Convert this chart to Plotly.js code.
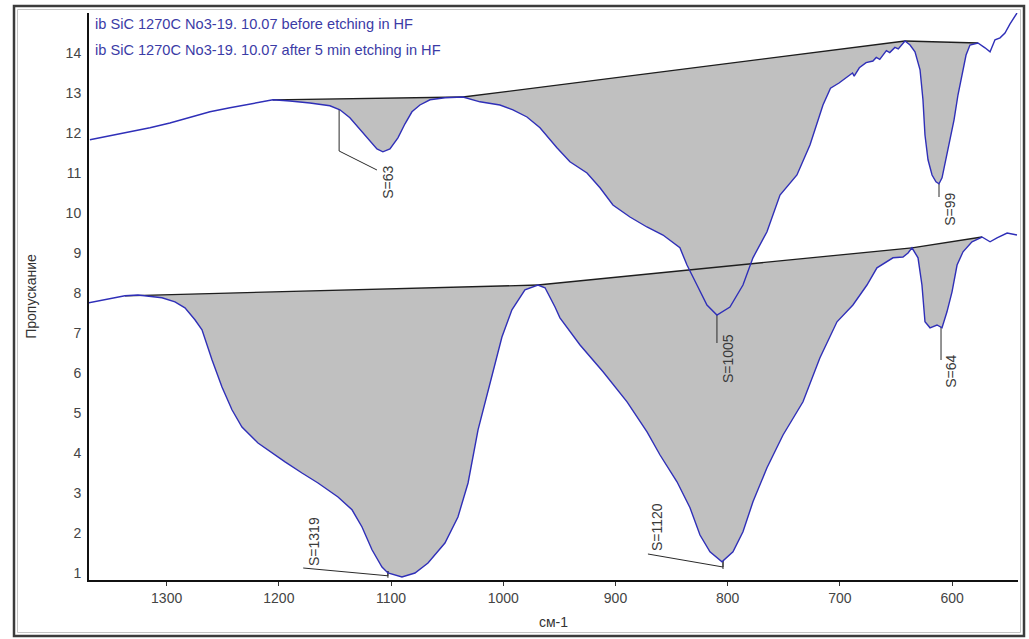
<!DOCTYPE html>
<html>
<head>
<meta charset="utf-8">
<script src="https://cdn.plot.ly/plotly-3.0.1.min.js"></script>
<style>
  html, body { margin: 0; padding: 0; background: #ffffff; }
  #chart { width: 1029px; height: 639px; }
</style>
</head>
<body>
<div id="chart"></div>
<script>
// ---- Data (wavenumber, cm-1 ; transmission) ----
const wnBefore = [1368.4, 1350.5, 1332.7, 1314.9, 1297.1, 1279.2, 1261.4, 1243.6, 1225.8, 1205.3, 1190.1, 1172.3, 1154.5, 1145.6, 1136.7, 1127.8, 1118.9, 1112.6, 1107.3, 1101.0, 1093.9, 1087.6, 1081.4, 1074.3, 1065.3, 1052.0, 1035.9, 1020.8, 1003.0, 991.4, 978.9, 967.3, 952.2, 940.6, 925.4, 913.8, 902.3, 887.1, 872.0, 857.7, 842.6, 836.3, 827.4, 818.5, 809.6, 798.0, 786.4, 777.5, 765.0, 753.4, 738.3, 726.7, 715.1, 708.4, 700.8, 694.7, 688.8, 687.3, 682.7, 676.7, 670.6, 667.6, 664.5, 658.6, 655.6, 651.0, 648.0, 642.0, 637.5, 633.1, 628.6, 626.0, 624.2, 621.5, 617.9, 614.4, 611.7, 609.0, 605.5, 601.9, 598.3, 594.8, 591.2, 587.6, 584.1, 577.0, 570.7, 566.2, 561.8, 557.3, 552.9, 548.4, 542.2];
const tBefore  = [11.83, 11.93, 12.03, 12.13, 12.25, 12.40, 12.53, 12.63, 12.73, 12.83, 12.80, 12.75, 12.68, 12.58, 12.38, 12.10, 11.80, 11.60, 11.53, 11.60, 11.88, 12.23, 12.53, 12.70, 12.83, 12.88, 12.90, 12.78, 12.70, 12.58, 12.40, 12.13, 11.63, 11.28, 11.00, 10.63, 10.20, 9.90, 9.65, 9.45, 9.13, 8.70, 8.20, 7.70, 7.45, 7.65, 8.20, 8.88, 9.53, 10.45, 10.95, 11.70, 12.70, 13.12, 13.25, 13.38, 13.50, 13.42, 13.63, 13.76, 13.80, 13.89, 13.84, 14.06, 14.01, 14.14, 14.10, 14.30, 14.20, 14.03, 13.58, 12.83, 11.95, 11.33, 10.95, 10.78, 10.73, 10.88, 11.33, 11.83, 12.33, 12.95, 13.45, 13.95, 14.20, 14.25, 14.13, 14.03, 14.33, 14.38, 14.50, 14.73, 15.00];

const wnAfter = [1370.1, 1355.0, 1337.2, 1325.6, 1304.2, 1292.6, 1283.7, 1274.8, 1268.5, 1259.6, 1250.7, 1241.8, 1232.9, 1218.6, 1206.1, 1194.5, 1179.4, 1165.1, 1147.3, 1134.8, 1125.9, 1117.0, 1108.1, 1102.8, 1090.3, 1078.7, 1067.1, 1052.0, 1040.4, 1031.4, 1022.5, 1010.1, 1001.2, 992.3, 980.7, 969.1, 962.8, 953.9, 949.5, 931.6, 911.1, 889.7, 871.9, 860.3, 845.2, 833.6, 824.7, 815.8, 805.1, 795.3, 786.4, 777.5, 765.0, 750.7, 732.9, 717.8, 702.6, 688.4, 675.9, 667.0, 652.7, 643.8, 639.3, 635.8, 630.4, 626.9, 624.2, 619.7, 613.5, 609.0, 604.6, 600.1, 595.6, 590.3, 582.3, 573.4, 566.2, 560.0, 551.0, 542.2];
const tAfter  = [7.75, 7.83, 7.93, 7.95, 7.88, 7.78, 7.63, 7.33, 7.08, 6.33, 5.65, 5.08, 4.65, 4.25, 4.00, 3.78, 3.50, 3.25, 2.90, 2.58, 2.15, 1.58, 1.15, 1.00, 0.90, 1.00, 1.25, 1.75, 2.40, 3.25, 4.58, 5.90, 6.90, 7.58, 8.08, 8.20, 8.13, 7.65, 7.38, 6.70, 6.03, 5.28, 4.53, 3.95, 3.28, 2.63, 1.95, 1.53, 1.28, 1.53, 2.03, 2.78, 3.63, 4.45, 5.28, 6.38, 7.28, 7.70, 8.20, 8.63, 8.88, 8.90, 9.00, 9.13, 8.88, 8.20, 7.28, 7.13, 7.20, 7.13, 7.53, 8.03, 8.70, 9.03, 9.28, 9.40, 9.28, 9.38, 9.50, 9.45];

// integration baselines: start/end wavenumber and value
const baseCurve = ['before', 'before', 'before', 'after', 'after', 'after'];
const baseX0 = [1205.3, 1035.9, 642.0, 1337.2, 969.1, 635.8];
const baseY0 = [12.83, 12.90, 14.30, 7.93, 8.20, 9.13];
const baseX1 = [1035.9, 642.0, 577.0, 969.1, 635.8, 573.4];
const baseY1 = [12.90, 14.30, 14.25, 8.20, 9.13, 9.40];

// peak areas
const peakLabels = ['S=63', 'S=1005', 'S=99', 'S=1319', 'S=1120', 'S=64'];
const labelX = [1102.8, 799.7, 601.9, 1168.7, 863.0, 601.0];
const labelY = [10.78, 6.35, 10.08, 1.80, 2.15, 6.03];

const legendTexts = ['ib SiC 1270C No3-19. 10.07 before etching in HF',
                     'ib SiC 1270C No3-19. 10.07 after 5 min etching in HF'];
const xTicks = [1300, 1200, 1100, 1000, 900, 800, 700, 600];
const yTicks = [1, 2, 3, 4, 5, 6, 7, 8, 9, 10, 11, 12, 13, 14];

// leader lines (polylines in data coordinates)
const leaderX = [[1146.3, 1146.3, 1112.6], [809.6, 809.6], [611.7, 611.7], [1178.3, 1102.8, 1102.8, 1102.8], [871.1, 804.2, 804.2, 804.2], [609.9, 609.9]];
const leaderY = [[12.575, 11.55, 11.075], [7.45, 6.75], [10.73, 10.40], [1.125, 0.93, 1.05, 0.88], [1.475, 1.15, 1.30, 1.10], [7.15, 6.325]];

// ---- Build traces ----
const curves = { before: [wnBefore, tBefore], after: [wnAfter, tAfter] };
const traces = [];

for (let k = 0; k < baseX0.length; k++) {
  const [wn, tv] = curves[baseCurve[k]];
  const xs = [baseX0[k]], ys = [baseY0[k]];
  for (let i = 0; i < wn.length; i++) {
    if (wn[i] < baseX0[k] && wn[i] > baseX1[k]) { xs.push(wn[i]); ys.push(tv[i]); }
  }
  xs.push(baseX1[k]); ys.push(baseY1[k]);
  xs.push(baseX0[k]); ys.push(baseY0[k]);
  traces.push({ x: xs, y: ys, type: 'scatter', mode: 'lines', fill: 'toself',
    fillcolor: '#c0c0c0', line: { width: 0, color: 'rgba(0,0,0,0)' },
    hoverinfo: 'skip', showlegend: false });
}
for (let k = 0; k < baseX0.length; k++) {
  traces.push({ x: [baseX0[k], baseX1[k]], y: [baseY0[k], baseY1[k]], type: 'scatter', mode: 'lines',
    line: { color: '#1e1e1e', width: 1.3 }, hoverinfo: 'skip', showlegend: false });
}
for (let k = 0; k < leaderX.length; k++) {
  traces.push({ x: leaderX[k], y: leaderY[k], type: 'scatter', mode: 'lines',
    line: { color: '#2a2a2a', width: 1 }, hoverinfo: 'skip', showlegend: false });
}
traces.push({ x: wnBefore, y: tBefore, type: 'scatter', mode: 'lines', name: legendTexts[0],
  line: { color: '#2f2fb8', width: 1.4 }, showlegend: false });
traces.push({ x: wnAfter, y: tAfter, type: 'scatter', mode: 'lines', name: legendTexts[1],
  line: { color: '#2f2fb8', width: 1.4 }, showlegend: false });

// ---- Annotations ----
const annotations = [];
for (let k = 0; k < peakLabels.length; k++) {
  annotations.push({ x: labelX[k], y: labelY[k], xref: 'x', yref: 'y', text: peakLabels[k],
    showarrow: false, textangle: -90, font: { family: 'Liberation Sans, Arial, sans-serif', size: 14, color: '#3a3a3a' } });
}
const legendY = [0.9806, 0.9347];
for (let k = 0; k < legendTexts.length; k++) {
  annotations.push({ x: 0.0043, y: legendY[k], xref: 'paper', yref: 'paper', xanchor: 'left', yanchor: 'middle',
    text: legendTexts[k], showarrow: false, font: { family: 'Liberation Sans, Arial, sans-serif', size: 14.6, color: '#3b3ba6' } });
}

const layout = {
  width: 1029, height: 639,
  margin: { l: 89, r: 11, t: 13, b: 59, pad: 0 },
  paper_bgcolor: '#ffffff', plot_bgcolor: '#ffffff',
  font: { family: 'Liberation Sans, Arial, sans-serif', size: 14, color: '#444444' },
  showlegend: false,
  xaxis: {
    range: [1369.2, 541.3], tickvals: xTicks, ticktext: xTicks.map(String),
    showgrid: false, zeroline: false, showline: true, linecolor: '#111111', linewidth: 2,
    ticks: 'outside', ticklen: 4, tickcolor: '#333333', tickwidth: 1,
    tickfont: { size: 14, color: '#444444' },
    title: { text: 'см-1', font: { size: 14, color: '#333333' }, standoff: 12 }
  },
  yaxis: {
    range: [0.825, 15.0], tickvals: yTicks, ticktext: yTicks.map(String),
    showgrid: false, zeroline: false, showline: true, linecolor: '#111111', linewidth: 2,
    ticks: 'outside', ticklen: 3, tickcolor: 'rgba(0,0,0,0)',
    tickfont: { size: 14, color: '#444444' },
    title: { text: 'Пропускание', font: { size: 14, color: '#333333' }, standoff: 26 }
  },
  annotations: annotations,
  shapes: [
    { type: 'rect', xref: 'paper', yref: 'paper',
      x0: (14 - 89) / 929, x1: (1024 - 89) / 929, y0: (580 - 636) / 567, y1: (580 - 6) / 567,
      line: { color: '#3c3c3c', width: 2.5 } },
    { type: 'rect', xref: 'paper', yref: 'paper',
      x0: (17.5 - 89) / 929, x1: (1020.5 - 89) / 929, y0: (580 - 632.5) / 567, y1: (580 - 9.5) / 567,
      line: { color: '#c4c4c4', width: 1 } }
  ]
};

Plotly.newPlot('chart', traces, layout, { staticPlot: true, displayModeBar: false });
</script>
</body>
</html>
